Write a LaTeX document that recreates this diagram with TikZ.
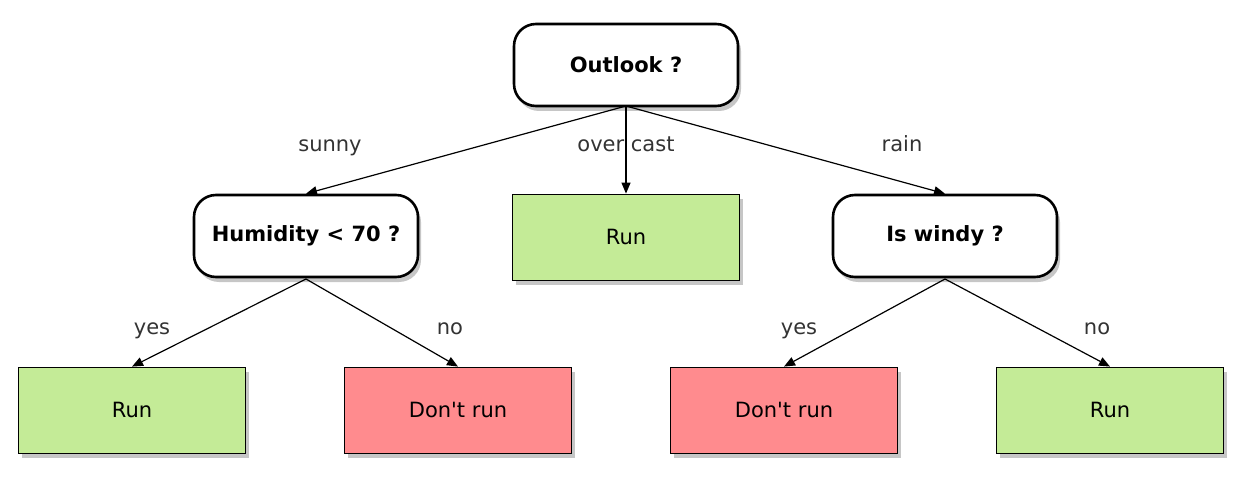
\documentclass[tikz,border=0pt]{standalone}
\usepackage{fontspec}
\newfontfamily\plain{DejaVu Sans}
\usetikzlibrary{shadows,arrows.meta}
\definecolor{gr}{HTML}{C4EB97}
\definecolor{rd}{HTML}{FF8B8E}
\begin{document}
\begin{tikzpicture}[x=1pt,y=-1pt,
 base/.style={draw=black,minimum width=227pt,minimum height=86pt,inner sep=0pt,font=\plain\fontsize{21}{24}\selectfont,drop shadow={shadow xshift=3pt,shadow yshift=-5pt,opacity=0.45}},
 q/.style={base,fill=white,rounded corners=22pt,line width=2.6pt,font=\plain\fontsize{21}{24}\selectfont\bfseries,minimum width=224pt,minimum height=82pt},
 leafg/.style={base,fill=gr,line width=0.8pt},
 leafr/.style={base,fill=rd,line width=0.8pt},
 e/.style={line width=1.2pt,-{Triangle[length=11pt,width=9pt]}},
 lab/.style={anchor=base,font=\plain\fontsize{21}{24}\selectfont,text=black!80}]
\useasboundingbox (0,0) rectangle (1244,489);
\node[q] (out) at (626,65) {Outlook ?};
\node[q] (hum) at (306,236) {Humidity < 70 ?};
\node[leafg] (run1) at (626,237) {Run};
\node[q] (win) at (945,236) {Is windy ?};
\node[leafg] (r2) at (132,410) {Run};
\node[leafr] (d1) at (458,410) {Don't run};
\node[leafr] (d2) at (784,410) {Don't run};
\node[leafg] (r3) at (1110,410) {Run};
\coordinate (ob) at (626,106);
\coordinate (hb) at (306,279);
\coordinate (wb) at (945,279);
\draw[e] (ob) -- (hum.north);
\draw[e] (ob) -- (run1.north);
\draw[e] (ob) -- (win.north);
\draw[e] (hb) -- (r2.north);
\draw[e] (hb) -- (d1.north);
\draw[e] (wb) -- (d2.north);
\draw[e] (wb) -- (r3.north);
\node[lab] (l1) at (330,152) {sunny};
\node[lab] (l2) at (626,152) {over cast};
\node[lab] (l3) at (902,152) {rain};
\node[lab] (l4) at (152,334) {yes};
\node[lab] (l5) at (450,334) {no};
\node[lab] (l6) at (799,334) {yes};
\node[lab] (l7) at (1097,334) {no};
\end{tikzpicture}
\end{document}
